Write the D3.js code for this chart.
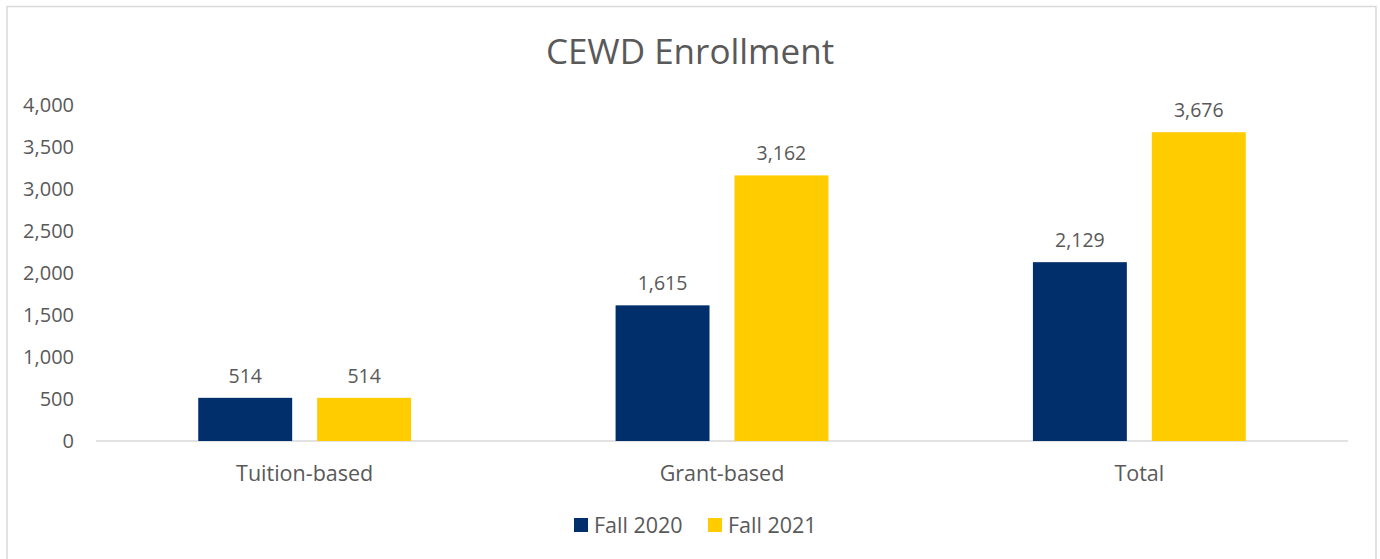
<!DOCTYPE html>
<html>
<head>
<meta charset="utf-8">
<script src="https://cdn.jsdelivr.net/npm/d3@7"></script>
<style>
  body { margin: 0; background: #fff; }
  text { font-family: "Open Sans", "Noto Sans", sans-serif; fill: #595959; }
</style>
</head>
<body>
<div id="chart"></div>
<script>
// chart values
const categories = ["Tuition-based", "Grant-based", "Total"];
const seriesNames = ["Fall 2020", "Fall 2021"];
const fall2020 = [514, 1615, 2129];
const fall2021 = [514, 3162, 3676];
const yTicks = [0, 500, 1000, 1500, 2000, 2500, 3000, 3500, 4000];
const colors = ["#002f6c", "#ffcc00"];

const W = 1380, H = 559;
const margin = {top: 105, right: 32, bottom: 118, left: 96};
const width = W - margin.left - margin.right;
const height = H - margin.top - margin.bottom;

const svg = d3.select("#chart").append("svg")
  .attr("width", W).attr("height", H);

// outer frame
svg.append("rect")
  .attr("x", 7).attr("y", 6.5)
  .attr("width", 1369).attr("height", 560)
  .attr("fill", "none").attr("stroke", "#d9d9d9").attr("stroke-width", 1.5);

svg.append("text")
  .attr("x", W / 2).attr("y", 64)
  .attr("text-anchor", "middle")
  .style("font-size", "35px")
  .text("CEWD Enrollment");

const g = svg.append("g")
  .attr("transform", "translate(" + margin.left + "," + margin.top + ")");

const x0 = d3.scaleBand().domain(categories).range([0, width]).padding(0);
const x1 = d3.scaleBand().domain(seriesNames)
  .range([x0.bandwidth() * 0.245, x0.bandwidth() * 0.755])
  .paddingInner(0.21);
const y = d3.scaleLinear().domain([0, 4000]).range([height, 0]);

const fmt = d3.format(",");

// y axis labels
const yAxis = g.append("g")
  .call(d3.axisLeft(y).tickValues(yTicks).tickFormat(fmt).tickSize(0).tickPadding(22));
yAxis.select(".domain").remove();
yAxis.selectAll("text").style("font-size", "20px").attr("fill", "#595959");

// baseline
g.append("line")
  .attr("x1", 0).attr("x2", width)
  .attr("y1", y(0)).attr("y2", y(0))
  .attr("stroke", "#d9d9d9").attr("stroke-width", 1.5);

const rows = categories.map((c, i) => ({cat: c, vals: [fall2020[i], fall2021[i]]}));

const groups = g.selectAll(".cat").data(rows).join("g")
  .attr("class", "cat")
  .attr("transform", d => "translate(" + x0(d.cat) + ",0)");

groups.selectAll("rect")
  .data(d => d.vals.map((v, j) => ({name: seriesNames[j], v: v, j: j})))
  .join("rect")
  .attr("x", d => x1(d.name))
  .attr("width", x1.bandwidth())
  .attr("y", d => y(d.v))
  .attr("height", d => y(0) - y(d.v))
  .attr("fill", d => colors[d.j]);

groups.selectAll(".lbl")
  .data(d => d.vals.map((v, j) => ({name: seriesNames[j], v: v})))
  .join("text")
  .attr("class", "lbl")
  .attr("x", d => x1(d.name) + x1.bandwidth() / 2)
  .attr("y", d => y(d.v) - 15)
  .attr("text-anchor", "middle")
  .style("font-size", "19.5px")
  .text(d => fmt(d.v));

// category labels
g.append("g").selectAll("text").data(categories).join("text")
  .attr("x", d => x0(d) + x0.bandwidth() / 2)
  .attr("y", height + 40)
  .attr("text-anchor", "middle")
  .style("font-size", "21.5px")
  .text(d => d);

// legend
const legend = svg.append("g").attr("transform", "translate(574,518)");
const lx = [0, 134];
seriesNames.forEach((s, i) => {
  legend.append("rect").attr("x", lx[i]).attr("y", 0)
    .attr("width", 14).attr("height", 14).attr("fill", colors[i]);
  legend.append("text").attr("x", lx[i] + 20).attr("y", 15)
    .style("font-size", "21.5px").text(s);
});
</script>
</body>
</html>
